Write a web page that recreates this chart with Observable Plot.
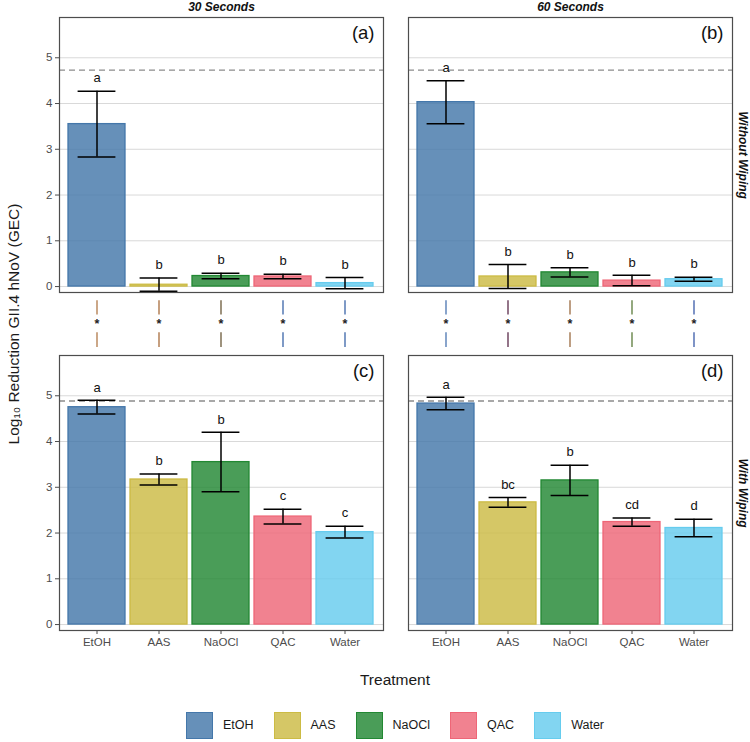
<!DOCTYPE html>
<html>
<head>
<meta charset="utf-8">
<script src="https://cdn.jsdelivr.net/npm/d3@7"></script>
<script src="https://cdn.jsdelivr.net/npm/@observablehq/plot@0.6"></script>
<style>
  html, body { margin: 0; padding: 0; background: #fff; }
  body { width: 750px; height: 742px; overflow: hidden; font-family: "Liberation Sans", Arial, sans-serif; }
  #legend { display: flex; justify-content: center; align-items: center; gap: 20px;
            width: 750px; box-sizing: border-box; padding: 8px 18px 0 58px; height: 42px; }
  .item { display: flex; align-items: center; gap: 10px; font-size: 12.5px; color: #1a1a1a; }
  .key { width: 25px; height: 25px; border: 1.5px solid; }
</style>
</head>
<body>
<div id="chart"></div>
<div id="legend"></div>
<script>
// ---- data ----
const treatments = ["EtOH", "AAS", "NaOCl", "QAC", "Water"];
const times = ["30 Seconds", "60 Seconds"];
const wiping = ["Without Wiping", "With Wiping"];
const panelLabels = ["(a)", "(b)", "(c)", "(d)"];
const yTicks = [0, 1, 2, 3, 4, 5];

const mean30NoWipe = [3.55, 0.04, 0.23, 0.22, 0.075];
const sd30NoWipe   = [0.72, 0.145, 0.06, 0.05, 0.125];
const letters30NoWipe = ["a", "b", "b", "b", "b"];

const mean60NoWipe = [4.03, 0.22, 0.31, 0.13, 0.16];
const sd60NoWipe   = [0.47, 0.26, 0.10, 0.115, 0.045];
const letters60NoWipe = ["a", "b", "b", "b", "b"];

const mean30Wipe = [4.75, 3.17, 3.55, 2.36, 2.02];
const sd30Wipe   = [0.15, 0.12, 0.65, 0.16, 0.13];
const letters30Wipe = ["a", "b", "b", "c", "c"];

const mean60Wipe = [4.83, 2.67, 3.15, 2.24, 2.11];
const sd60Wipe   = [0.135, 0.105, 0.33, 0.09, 0.19];
const letters60Wipe = ["a", "bc", "b", "cd", "d"];

const detectionLimit = [4.73, 4.885]; // per wiping row
const sig30 = ["*", "*", "*", "*", "*"];
const sig60 = ["*", "*", "*", "*", "*"];

// ---- styles ----
const palette = ["#4477AA", "#CCBB44", "#228833", "#EE6677", "#66CCEE"];
const connColors = {
  "30 Seconds": ["#b07848", "#a86c3c", "#6a5838", "#3a64a8", "#3a64a8"],
  "60 Seconds": ["#4a74b0", "#5a2a4a", "#9a6a40", "#5a7a3a", "#3a5aa8"]
};

// ---- build tables ----
const panels = [
  {time: times[0], wipe: wiping[0], label: panelLabels[0], mean: mean30NoWipe, sd: sd30NoWipe, letters: letters30NoWipe},
  {time: times[1], wipe: wiping[0], label: panelLabels[1], mean: mean60NoWipe, sd: sd60NoWipe, letters: letters60NoWipe},
  {time: times[0], wipe: wiping[1], label: panelLabels[2], mean: mean30Wipe, sd: sd30Wipe, letters: letters30Wipe},
  {time: times[1], wipe: wiping[1], label: panelLabels[3], mean: mean60Wipe, sd: sd60Wipe, letters: letters60Wipe}
];
const rows = panels.flatMap(p => treatments.map((t, i) => ({
  time: p.time, wipe: p.wipe, treatment: t, mean: p.mean[i], sd: p.sd[i], letter: p.letters[i]
})));
const limits = wiping.map((w, i) => ({wipe: w, value: detectionLimit[i]}));
const sigRows = [
  ...treatments.map((t, i) => ({time: times[0], treatment: t, sig: sig30[i], color: connColors[times[0]][i]})),
  ...treatments.map((t, i) => ({time: times[1], treatment: t, sig: sig60[i], color: connColors[times[1]][i]}))
];
const connSegs = [[-0.31, -0.62], [-1.01, -1.33]];
const connStar = -0.82;

const font = "Liberation Sans, Arial, sans-serif";

const chart = Plot.plot({
  width: 750,
  height: 700,
  marginTop: 17,
  marginLeft: 58,
  marginRight: 18,
  marginBottom: 69,
  style: {fontFamily: font, background: "#fff", overflow: "visible"},
  fx: {domain: times, paddingInner: 0.072, paddingOuter: 0, axis: null},
  fy: {domain: wiping, paddingInner: 0.186, paddingOuter: 0, axis: null},
  x: {domain: treatments, paddingInner: 0.08, paddingOuter: 0.14, axis: null},
  y: {domain: [-0.13, 5.88], axis: null},
  color: {domain: treatments, range: palette},
  marks: [
    Plot.gridY(yTicks, {stroke: "#d9d9d9", strokeOpacity: 1, strokeWidth: 1}),
    Plot.ruleY(limits, {fy: "wipe", y: "value", stroke: "#8c8c8c", strokeWidth: 1.4, strokeDasharray: "6,4"}),
    Plot.barY(rows, {fx: "time", fy: "wipe", x: "treatment", y: "mean", fill: "treatment", fillOpacity: 0.82, stroke: "treatment", strokeWidth: 1.3}),
    Plot.ruleX(rows, {fx: "time", fy: "wipe", x: "treatment", y1: d => d.mean - d.sd, y2: d => d.mean + d.sd, stroke: "black", strokeWidth: 1.5}),
    Plot.tickY(rows, {fx: "time", fy: "wipe", x: "treatment", y: d => d.mean - d.sd, stroke: "black", strokeWidth: 1.5, insetLeft: 9.6, insetRight: 9.6}),
    Plot.tickY(rows, {fx: "time", fy: "wipe", x: "treatment", y: d => d.mean + d.sd, stroke: "black", strokeWidth: 1.5, insetLeft: 9.6, insetRight: 9.6}),
    Plot.text(rows, {fx: "time", fy: "wipe", x: "treatment", y: d => d.mean + d.sd, text: "letter", dy: -13, fontSize: 13, fill: "#111", lineAnchor: "middle"}),
    // significance connectors between rows
    ...connSegs.map(([a, b]) => Plot.ruleX(sigRows, {fx: "time", fy: () => wiping[0], x: "treatment", y1: () => a, y2: () => b, stroke: {value: "color", scale: null}, strokeWidth: 1.3})),
    Plot.text(sigRows, {fx: "time", fy: () => wiping[0], x: "treatment", y: () => connStar, text: "sig", fontSize: 12.5, fontWeight: "bold", fill: "#222"}),
    // axes
    Plot.axisY({ticks: yTicks, tickFormat: d3.format("d"), tickSize: 4, tickPadding: 3, fontSize: 11.5, color: "#4d4d4d", label: null}),
    Plot.axisX({tickSize: 4, tickPadding: 3, fontSize: 11.5, color: "#4d4d4d", label: null}),
    // strips
    Plot.text(times, {fx: d => d, fy: () => wiping[0], text: d => d, frameAnchor: "top", dy: -10, lineAnchor: "middle", fontWeight: "bold", fontStyle: "italic", fontSize: 12, fill: "#111"}),
    Plot.text(wiping, {fy: d => d, fx: () => times[1], text: d => d, frameAnchor: "right", dx: 10, rotate: 90, lineAnchor: "middle", textAnchor: "middle", fontWeight: "bold", fontStyle: "italic", fontSize: 12, fill: "#111"}),
    Plot.text(panels, {fx: "time", fy: "wipe", text: "label", frameAnchor: "top-right", dx: -9, dy: 8, lineAnchor: "top", fontSize: 18.5, fill: "#111"}),
    Plot.frame({stroke: "#4d4d4d", strokeWidth: 1.2})
  ]
});

document.getElementById("chart").appendChild(chart);

// axis titles
const svg = d3.select(chart);
svg.append("text")
  .attr("x", 395).attr("y", 679)
  .attr("text-anchor", "middle").attr("dominant-baseline", "central")
  .attr("font-family", font).attr("font-size", 15.5).attr("fill", "#1a1a1a")
  .text("Treatment");
svg.append("text")
  .attr("transform", "translate(13,324) rotate(-90)")
  .attr("text-anchor", "middle").attr("dominant-baseline", "central")
  .attr("font-family", font).attr("font-size", 15.5).attr("fill", "#1a1a1a")
  .text("Log\u2081\u2080 Reduction GII.4 hNoV (GEC)");

// legend
const legend = d3.select("#legend");
treatments.forEach((t, i) => {
  const item = legend.append("div").attr("class", "item");
  const c = d3.color(palette[i]);
  c.opacity = 0.82;
  item.append("div").attr("class", "key").style("background", c.formatRgb()).style("border-color", palette[i]);
  item.append("span").text(t);
});
</script>
</body>
</html>
